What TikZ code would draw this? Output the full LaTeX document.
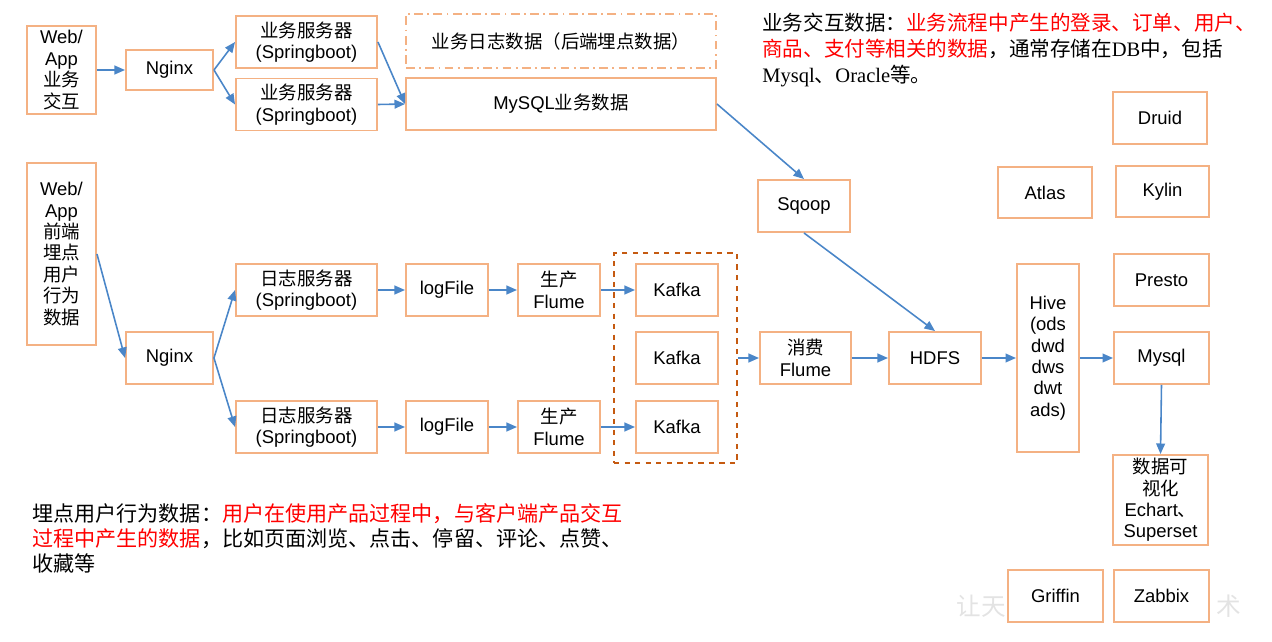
\documentclass[tikz,border=0pt]{standalone}
\usepackage{fontspec}
\setmainfont{Liberation Serif}
\setsansfont{Liberation Sans}
\newfontfamily\cjk{Noto Sans CJK SC}
\usetikzlibrary{positioning,arrows.meta}
\definecolor{BoxOrange}{HTML}{F4B183}
\definecolor{GroupOrange}{HTML}{C55A11}
\definecolor{FlowBlue}{HTML}{4A86C8}
\definecolor{NoteRed}{HTML}{FF0000}

\begin{document}
\begin{tikzpicture}[x=0.02cm, y=-0.02cm,
    every node/.style={font=\sffamily\fontsize{10.5}{12.2}\selectfont, align=center, inner sep=0pt},
    box/.style 2 args={draw=BoxOrange, line width=1.1pt, fill=white,
      minimum width=#1*0.02cm, minimum height=#2*0.02cm},
    flow/.style={draw=FlowBlue, line width=0.9pt, -{Triangle[length=6pt,width=5pt]}},
    note/.style={anchor=north west, align=left},
    wmark/.style={text=gray!22, font=\cjk\fontsize{14}{16}\selectfont}]
  \useasboundingbox (0,0) rectangle (1272,642);

  % watermark (only the parts that show beside the boxes)
  \node[wmark, anchor=east] (markL) at (1006,606) {让天};
  \node[wmark, anchor=west] (markR) at (1216,606) {术};

  % business interaction path
  \node[box={69}{88}] (web1) at (61.5,70) {Web/\\App\\{\cjk 业务}\\{\cjk 交互}};
  \node[box={87}{40}] (nginx1) at (169.5,70) {Nginx};
  \node[box={141}{52}] (srv1) at (306.5,42) {{\cjk 业务服务器}\\(Springboot)};
  \node[box={141}{52}] (srv2) at (306.5,104.5) {{\cjk 业务服务器}\\(Springboot)};
  \node[box={310}{54}, dash pattern=on 5pt off 2.5pt on 1pt off 2.5pt] (bizlog) at (561,41)
    {{\cjk 业务日志数据（后端埋点数据）}};
  \node[box={310}{52}] (mysqlbiz) at (561,104) {MySQL{\cjk 业务数据}};
  \node[box={92}{52}] (sqoop) at (804,206) {Sqoop};

  \draw[flow] (web1) -- (nginx1);
  \draw[flow] (nginx1.east) -- (srv1.west);
  \draw[flow] (nginx1.east) -- (srv2.west);
  \draw[flow] (srv1.east) -- (mysqlbiz.west);
  \draw[flow] (srv2.east) -- (mysqlbiz.west);
  \draw[flow] (mysqlbiz.east) -- (sqoop.north);

  % user behaviour path
  \node[box={69}{182}] (web2) at (61.5,254)
    {Web/\\App\\{\cjk 前端}\\{\cjk 埋点}\\{\cjk 用户}\\{\cjk 行为}\\{\cjk 数据}};
  \node[box={87}{52}] (nginx2) at (169.5,358) {Nginx};
  \draw[flow] (web2.east) -- (nginx2.west);

  \node[draw=GroupOrange, dashed, line width=1pt,
    minimum width=123*0.02cm, minimum height=210*0.02cm] (kgroup) at (675.5,358) {};
  \foreach \n/\yy in {1/290,2/358,3/427}
    \node[box={82}{52}] (kafka\n) at (677,\yy) {Kafka};

  \foreach \n/\k/\yy in {1/1/290,2/3/427}{
    \node[box={141}{52}] (logsrv\n) at (306.5,\yy) {{\cjk 日志服务器}\\(Springboot)};
    \node[box={82}{52}] (logfile\n) at (447,\yy) {logFile};
    \node[box={82}{52}] (prod\n) at (559,\yy) {{\cjk 生产}\\Flume};
    \draw[flow] (nginx2.east) -- (logsrv\n.west);
    \draw[flow] (logsrv\n) -- (logfile\n);
    \draw[flow] (logfile\n) -- (prod\n);
    \draw[flow] (prod\n) -- (kafka\k);
  }

  % warehouse
  \node[box={91}{52}] (consume) at (805.5,358) {{\cjk 消费}\\Flume};
  \node[box={92}{52}] (hdfs) at (935,358) {HDFS};
  \node[box={62}{188}] (hive) at (1048,358) {Hive\\(ods\\dwd\\dws\\dwt\\ads)};
  \node[box={95}{52}] (mysql) at (1161.5,358) {Mysql};
  \node[box={95}{90}] (vis) at (1160.5,500) {{\cjk 数据可}\\{\cjk 视化}\\Echart{\cjk 、}\\Superset};

  \draw[flow] (kgroup.east) -- (consume.west);
  \draw[flow] (sqoop.south) -- (hdfs.north);
  \draw[flow] (consume) -- (hdfs);
  \draw[flow] (hdfs) -- (hive);
  \draw[flow] (hive) -- (mysql);
  \draw[flow] (mysql.south) -- (vis.north);

  % other tools
  \node[box={94}{52}] (druid) at (1160,118) {Druid};
  \node[box={94}{51}] (atlas) at (1045,192.5) {Atlas};
  \node[box={93}{51}] (kylin) at (1162.5,191.5) {Kylin};
  \node[box={95}{52}] (presto) at (1161.5,280) {Presto};
  \node[box={95}{52}] (griffin) at (1055.5,596) {Griffin};
  \node[box={95}{52}] (zabbix) at (1161.5,596) {Zabbix};

  % notes
  \node[note, font=\fontsize{11.7}{14.7}\selectfont] (bizNote) at (762,13)
    {{\cjk 业务交互数据：}\textcolor{NoteRed}{\cjk 业务流程中产生的登录、订单、用户、}\\
     \textcolor{NoteRed}{\cjk 商品、支付等相关的数据}{\cjk ，通常存储在}DB{\cjk 中，包括}\\
     Mysql{\cjk 、}Oracle{\cjk 等。}};
  \node[note, font=\fontsize{12}{14.2}\selectfont] (userNote) at (32,503)
    {{\cjk 埋点用户行为数据：}\textcolor{NoteRed}{\cjk 用户在使用产品过程中，与客户端产品交互}\\
     \textcolor{NoteRed}{\cjk 过程中产生的数据}{\cjk ，比如页面浏览、点击、停留、评论、点赞、}\\
     {\cjk 收藏等}};
\end{tikzpicture}
\end{document}
